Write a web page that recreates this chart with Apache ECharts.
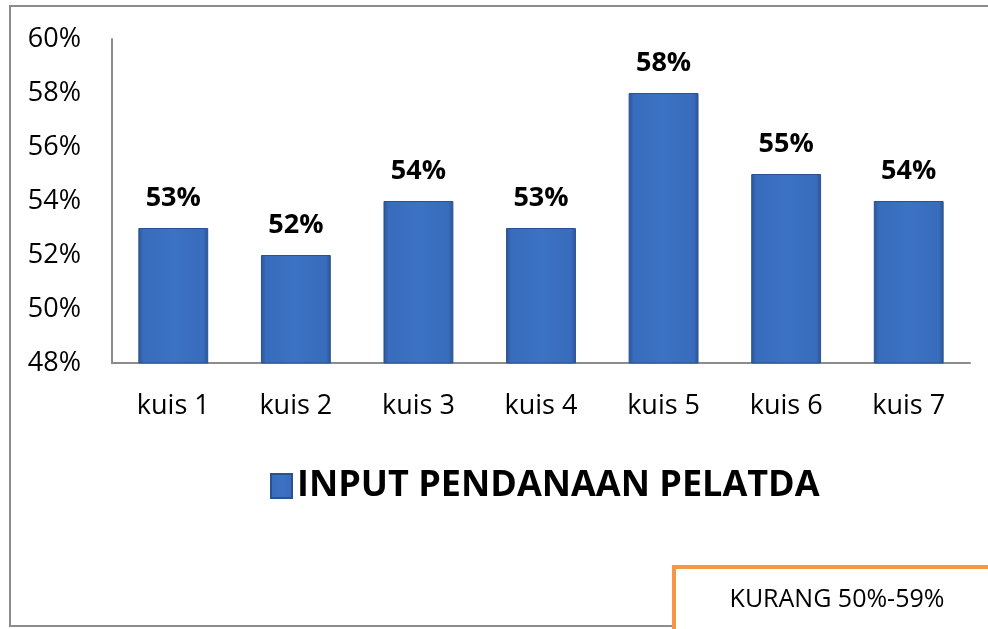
<!DOCTYPE html>
<html>
<head>
<meta charset="utf-8">
<script src="https://cdn.jsdelivr.net/npm/echarts@6/dist/echarts.min.js"></script>
<style>html,body{margin:0;padding:0;background:#fff}#c{width:988px;height:629px}</style>
</head>
<body>
<div id="c"></div>
<script>
var categories = ['kuis 1','kuis 2','kuis 3','kuis 4','kuis 5','kuis 6','kuis 7'];
var seriesName = 'INPUT PENDANAAN PELATDA';
var values = [53, 52, 54, 53, 58, 55, 54];
var yMin = 48, yMax = 60, yStep = 2;
var noteText = 'KURANG 50%-59%';

var FONT = 'Open Sans';
var barFill = new echarts.graphic.LinearGradient(0, 0, 1, 0, [
  {offset: 0, color: '#2a5596'},
  {offset: 0.07, color: '#386cbc'},
  {offset: 0.5, color: '#3c72c4'},
  {offset: 0.93, color: '#386cbc'},
  {offset: 1, color: '#2a5596'}
]);

var chart = echarts.init(document.getElementById('c'));
chart.setOption({
  animation: false,
  textStyle: {fontFamily: FONT},
  grid: {left: 112, right: 18, top: 39, bottom: 266, containLabel: false},
  legend: {
    data: [seriesName],
    left: 265,
    top: 463,
    itemWidth: 21,
    itemHeight: 24,
    itemGap: 12,
    icon: 'rect',
    textStyle: {fontFamily: FONT, fontWeight: 'bold', fontSize: 36, color: '#000'}
  },
  xAxis: {
    type: 'category',
    data: categories,
    axisLine: {lineStyle: {color: '#8c8c8c', width: 2}},
    axisTick: {show: false},
    axisLabel: {fontSize: 27, color: '#000', margin: 30, fontFamily: FONT}
  },
  yAxis: {
    type: 'value',
    min: yMin, max: yMax, interval: yStep,
    axisLine: {show: true, lineStyle: {color: '#8c8c8c', width: 2}},
    axisTick: {show: false},
    splitLine: {show: false},
    axisLabel: {fontSize: 27, color: '#000', margin: 31, formatter: '{value}%', fontFamily: FONT}
  },
  series: [{
    name: seriesName,
    type: 'bar',
    data: values,
    barWidth: '57%',
    itemStyle: {color: barFill, borderColor: '#29528f', borderWidth: 1},
    label: {
      show: true, position: 'top', distance: 16,
      formatter: '{c}%', fontSize: 27, fontWeight: 'bold', color: '#000', fontFamily: FONT
    }
  }],
  graphic: [
    {type: 'rect', z: 100, silent: true,
     shape: {x: 10, y: 6, width: 1000, height: 620},
     style: {fill: null, stroke: '#8c8c8c', lineWidth: 2}},
    {type: 'rect', z: 101, silent: true,
     shape: {x: 674, y: 567, width: 400, height: 100},
     style: {fill: '#fff', stroke: '#f79646', lineWidth: 4}},
    {type: 'text', z: 102, silent: true,
     x: 837, y: 600,
     style: {text: noteText, fontFamily: FONT, fontSize: 25, fill: '#000', align: 'center', verticalAlign: 'middle'}}
  ]
});
</script>
</body>
</html>
